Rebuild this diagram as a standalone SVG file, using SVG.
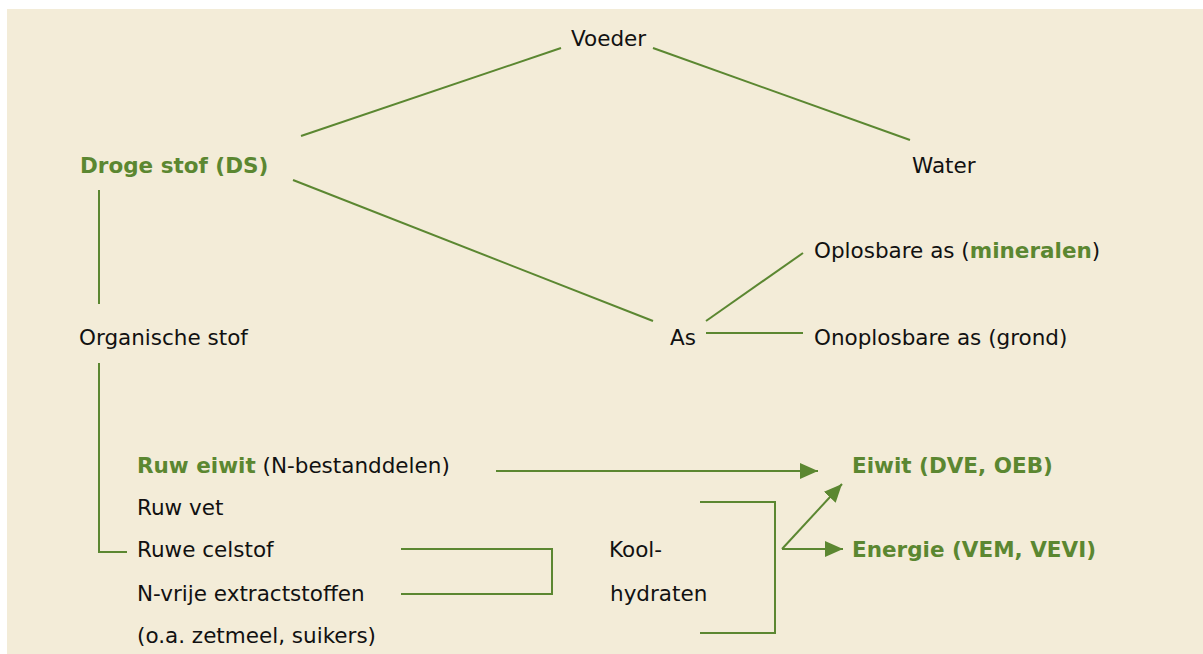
<svg xmlns="http://www.w3.org/2000/svg" width="1203" height="654" viewBox="0 0 1203 654">
<style>
text{font-family:"DejaVu Sans",Verdana,sans-serif;font-size:21.5px;fill:#111}
.g{fill:#5b8731;font-weight:bold}
.ln{stroke:#5b8731;stroke-width:2;fill:none}
</style>
<defs>
<marker id="ah2" viewBox="0 0 18 16" refX="18" refY="8" markerWidth="18" markerHeight="16" markerUnits="userSpaceOnUse" orient="auto">
<path d="M0,0 L18,8 L0,16 Z" fill="#5b8731"/>
</marker>
</defs>
<rect x="0" y="0" width="1203" height="654" fill="#ffffff"/>
<rect x="7" y="9" width="1196" height="645" fill="#f3ecd8"/>
<g id="connectors">
<line class="ln" x1="301" y1="136" x2="561" y2="48"/>
<line class="ln" x1="653" y1="48" x2="910" y2="140"/>
<line class="ln" x1="293" y1="180" x2="653" y2="321"/>
<line class="ln" x1="99" y1="190" x2="99" y2="304"/>
<polyline class="ln" points="99,363 99,552 127,552"/>
<line class="ln" x1="706" y1="321" x2="803" y2="253"/>
<line class="ln" x1="706" y1="333" x2="803" y2="333"/>
<line class="ln" x1="496" y1="471" x2="818" y2="471" marker-end="url(#ah2)"/>
<polyline class="ln" points="401,549 552,549 552,594 401,594"/>
<polyline class="ln" points="700,502 775,502 775,633 700,633"/>
<line class="ln" x1="782" y1="549" x2="842" y2="484" marker-end="url(#ah2)"/>
<line class="ln" x1="782" y1="549" x2="843" y2="549" marker-end="url(#ah2)"/>
</g>
<g id="voeder"><text x="571" y="46">Voeder</text></g>
<g id="water"><text x="912" y="173">Water</text></g>
<g id="droge-stof"><text class="g" x="80" y="173">Droge stof (DS)</text></g>
<g id="organische-stof"><text x="79" y="345">Organische stof</text></g>
<g id="as"><text x="670" y="345">As</text></g>
<g id="oplosbare-as"><text x="814" y="258">Oplosbare as (<tspan class="g">mineralen</tspan>)</text></g>
<g id="onoplosbare-as"><text x="814" y="345">Onoplosbare as (grond)</text></g>
<g id="ruw-eiwit"><text x="137" y="473"><tspan class="g">Ruw eiwit</tspan> (N-bestanddelen)</text></g>
<g id="ruw-vet"><text x="137" y="515">Ruw vet</text></g>
<g id="ruwe-celstof"><text x="137" y="557">Ruwe celstof</text></g>
<g id="n-vrije"><text x="137" y="601">N-vrije extractstoffen</text><text x="137" y="643">(o.a. zetmeel, suikers)</text></g>
<g id="koolhydraten"><text x="609" y="557">Kool-</text><text x="610" y="601">hydraten</text></g>
<g id="eiwit"><text class="g" x="852" y="473">Eiwit (DVE, OEB)</text></g>
<g id="energie"><text class="g" x="852" y="557">Energie (VEM, VEVI)</text></g>
</svg>
